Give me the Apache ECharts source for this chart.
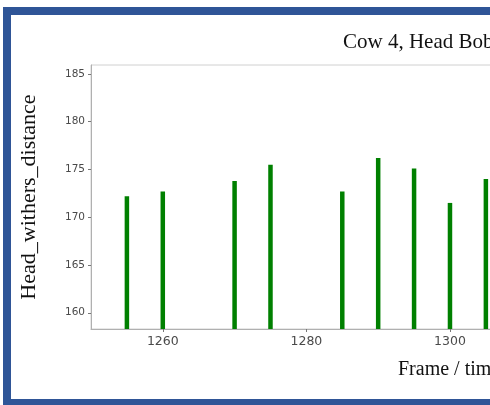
<!DOCTYPE html>
<html>
<head>
<meta charset="utf-8">
<script src="https://cdn.jsdelivr.net/npm/echarts@6/dist/echarts.min.js"></script>
<style>
  html, body { margin: 0; padding: 0; width: 490px; height: 405px; overflow: hidden; background: #fff; }
  #chart { position: absolute; left: 0; top: 0; width: 900px; height: 405px; }
</style>
</head>
<body>
<div id="chart"></div>
<script>
// Head-withers distance per sampled frame
const frames = [1255, 1260, 1270, 1275, 1285, 1290, 1295, 1300, 1305];
const distances = [172.2, 172.7, 173.8, 175.5, 172.7, 176.2, 175.1, 171.5, 174.0];
const xTicks = [1260, 1280, 1300, 1320, 1340];
const yTicks = [160, 165, 170, 175, 180, 185];

const titleText = 'Cow 4, Head Bobbing';
const xName = 'Frame / time';
const yName = 'Head_withers_distance';

const chart = echarts.init(document.getElementById('chart'), null, { renderer: 'canvas' });

const axisGray = '#b0b0b0';
const labelGray = '#4a4a4a';

chart.setOption({
  animation: false,
  backgroundColor: '#ffffff',
  title: {
    text: titleText,
    left: 338,
    top: 27,
    textStyle: { fontFamily: 'Liberation Serif', fontSize: 21, fontWeight: 'normal', color: '#111' }
  },
  grid: { left: 91, top: 65, width: 700, height: 264, show: true, borderColor: '#d0d0d0', borderWidth: 1 },
  xAxis: {
    type: 'value',
    min: 1250,
    max: 1347.5,
    axisLine: { show: true, lineStyle: { color: axisGray } },
    axisTick: { show: true, length: 3, lineStyle: { color: '#777' }, customValues: xTicks },
    axisLabel: {
      color: labelGray, fontFamily: 'DejaVu Sans', fontSize: 12.5, margin: 6,
      customValues: xTicks, formatter: v => String(v)
    },
    splitLine: { show: false }
  },
  yAxis: {
    type: 'value',
    min: 158.3,
    max: 185.94,
    name: yName,
    nameLocation: 'middle',
    nameGap: 51,
    nameTextStyle: { fontFamily: 'Liberation Serif', fontSize: 22, color: '#111' },
    axisLine: { show: true, lineStyle: { color: axisGray } },
    axisTick: { show: true, length: 3, lineStyle: { color: '#777' }, customValues: yTicks },
    axisLabel: { color: labelGray, fontFamily: 'DejaVu Sans', fontSize: 10.5, margin: 6, customValues: yTicks },
    splitLine: { show: false }
  },
  series: [{
    type: 'bar',
    data: frames.map((f, i) => [f, distances[i]]),
    barWidth: 4.5,
    itemStyle: { color: '#008000' },
    clip: true
  }],
  graphic: [
    {
      type: 'text',
      left: 398,
      top: 360,
      style: { text: xName, font: '20px "Liberation Serif"', fill: '#111' }
    },
    {
      type: 'rect',
      shape: { x: 7, y: 11, width: 1200, height: 392 },
      style: { fill: 'none', stroke: '#2f5597', lineWidth: 8 },
      z: 100
    }
  ]
});
</script>
</body>
</html>
